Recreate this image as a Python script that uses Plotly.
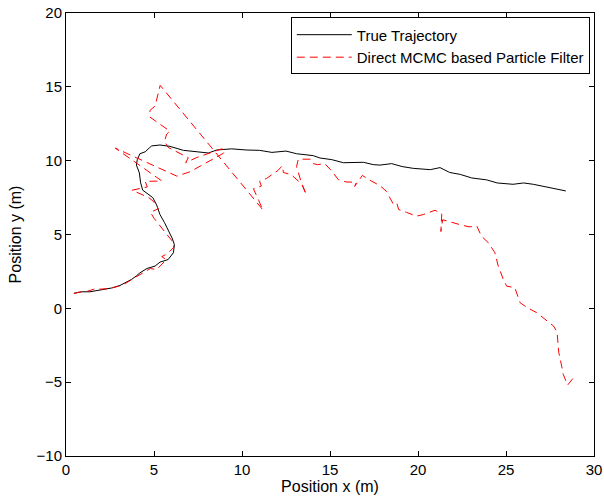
import plotly.graph_objects as go

# True trajectory (m)
true_x = [0.45, 0.9, 1.36, 1.8, 2.1, 2.6, 3.07, 3.4, 3.73, 4.0, 4.2, 4.6, 5.06, 5.34, 5.8, 6.1, 6.16, 6.05,
          5.9, 5.6, 5.34, 5.15, 4.93, 4.6, 4.36, 4.24, 4.17, 4.0, 4.05, 4.2, 4.5, 4.73, 4.87, 5.34, 5.9,
          6.67, 7.4, 8.09, 8.56, 9.4, 10.27, 11.0, 11.7, 12.5, 13.1, 14.05, 14.43, 15.1, 15.76, 16.4,
          16.9, 17.46, 17.84, 18.5, 19.1, 19.73, 20.7, 21.25, 21.8, 22.4, 23.05, 23.9, 24.5, 25.4, 26.0,
          26.55, 27.3, 27.9, 28.4]
true_y = [1.02, 1.12, 1.12, 1.2, 1.3, 1.38, 1.55, 1.75, 1.96, 2.2, 2.4, 2.7, 2.86, 3.13, 3.3, 3.76, 4.3, 4.7,
          5.1, 5.8, 6.35, 7.0, 7.5, 7.8, 8.0, 8.5, 9.17, 9.7, 10.07, 10.47, 10.6, 10.86, 11.0, 11.06, 10.97,
          10.7, 10.63, 10.52, 10.72, 10.8, 10.72, 10.7, 10.56, 10.65, 10.47, 10.34, 10.18, 10.07, 9.86, 9.85,
          9.89, 9.73, 9.7, 9.8, 9.6, 9.48, 9.39, 9.53, 9.2, 9.07, 8.83, 8.7, 8.49, 8.4, 8.49,
          8.4, 8.22, 8.09, 7.95]

# Direct MCMC based Particle Filter estimate (m)
pf_x = [0.45, 0.75, 1.2, 1.6, 2.0, 2.5, 3.0, 3.4, 3.8, 4.2, 4.5, 4.8, 5.15, 5.7, 5.44, 5.75, 6.1, 6.15,
        5.8, 5.4, 5.0, 4.8, 5.25, 4.96, 4.7, 3.75, 4.1, 4.62, 4.5, 5.45, 2.8, 6.3, 7.05, 8.0, 8.94, 9.05,
        8.85, 7.4, 6.8, 6.95, 5.8, 5.6, 5.72, 5.9, 4.77, 4.77, 5.06, 5.35, 11.2, 10.95, 10.65, 11.1, 11.0,
        11.4, 12.0, 12.3, 12.35, 12.8, 13.1, 13.4, 13.65, 13.35, 13.1, 13.2, 13.9, 14.05, 14.3, 14.7,
        15.1, 15.47, 15.9, 16.5, 16.4, 16.84, 17.27, 17.84, 18.2, 18.5, 18.6, 18.8, 18.9, 19.35, 19.9,
        20.3, 20.97, 21.35, 21.3, 21.4, 21.85, 22.35, 22.9, 23.35, 23.6, 24.0, 24.37, 24.56, 24.85,
        25.04, 25.5, 25.6, 25.8, 26.2, 26.74, 27.1, 27.7, 27.9, 27.97, 28.0, 28.16, 28.25, 28.5, 28.8]
pf_y = [1.0, 1.1, 1.15, 1.3, 1.3, 1.35, 1.5, 1.7, 2.0, 2.3, 2.5, 2.7, 2.62, 3.3, 3.5, 3.7, 4.1, 4.4,
        4.9, 5.5, 6.1, 6.5, 6.75, 7.25, 7.5, 8.0, 8.1, 8.22, 8.6, 8.62, 10.85, 8.95, 9.25, 9.86, 10.5, 10.7,
        10.8, 10.2, 9.86, 10.2, 10.9, 11.3, 11.8, 12.0, 12.95, 13.4, 13.7, 15.1, 6.65, 7.3, 8.1, 8.28, 8.6,
        8.8, 9.3, 9.65, 9.2, 9.05, 8.75, 8.4, 7.7, 8.6, 9.6, 10.1, 10.1, 9.8, 9.73, 9.8,
        9.3, 8.72, 8.56, 8.53, 8.26, 9.0, 8.67, 8.31, 7.93, 7.25, 7.05, 7.12, 6.69, 6.5, 6.24,
        6.35, 6.64, 6.4, 5.2, 6.0, 5.83, 5.68, 5.52, 5.56, 4.89, 4.44, 3.76, 2.86, 1.96,
        1.5, 1.4, 1.06, 0.38, 0.05, -0.29, -0.63, -1.2, -1.6, -2.3, -3.0, -3.9, -4.46, -5.2, -4.75]

x_ticks = [0, 5, 10, 15, 20, 25, 30]
y_ticks = [-10, -5, 0, 5, 10, 15, 20]

FONT = "Liberation Sans, Arial, Helvetica, sans-serif"

fig = go.Figure()
fig.add_trace(go.Scatter(x=true_x, y=true_y, mode="lines", name="True Trajectory",
                         line=dict(color="black", width=1)))
fig.add_trace(go.Scatter(x=pf_x, y=pf_y, mode="lines", name="Direct MCMC based Particle Filter",
                         line=dict(color="red", width=1, dash="8px,5px")))

axis_common = dict(showgrid=False, zeroline=False, showline=True, linecolor="black", linewidth=1,
                   mirror="ticks", ticks="inside", ticklen=5, tickcolor="black", automargin=False,
                   tickfont=dict(family=FONT, size=15, color="black"))

fig.update_layout(
    template="none",
    width=604, height=504,
    margin=dict(l=66, r=10, t=13, b=48),
    paper_bgcolor="white", plot_bgcolor="white",
    font=dict(family=FONT, size=16, color="black"),
    xaxis=dict(range=[0, 30], tickvals=x_ticks,
               title=dict(text="Position x (m)", font=dict(family=FONT, size=16), standoff=2),
               **axis_common),
    yaxis=dict(range=[-10, 20], tickvals=y_ticks,
               title=dict(text="Position y (m)", font=dict(family=FONT, size=16), standoff=10),
               **axis_common),
    legend=dict(x=0.992, y=0.99, xanchor="right", yanchor="top",
                bgcolor="white", bordercolor="black", borderwidth=1,
                font=dict(family=FONT, size=15), itemwidth=55, tracegroupgap=0),
)

fig.write_html("out.html")
